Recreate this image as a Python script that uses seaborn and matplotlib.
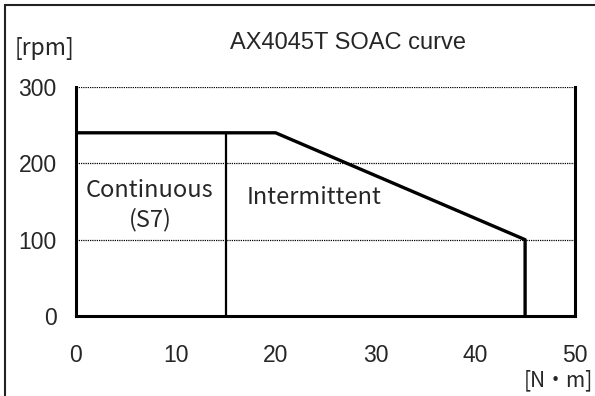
import matplotlib
matplotlib.use("Agg")
import matplotlib.pyplot as plt
import seaborn as sns
from matplotlib.patches import Rectangle

# dados da curva SOAC
torque = [0, 20, 45, 45]
velocidade = [240, 240, 100, 0]
cont_x = [15, 15]
cont_y = [240, 0]
x_ticks = [0, 10, 20, 30, 40, 50]
y_ticks = [0, 100, 200, 300]
titulo = "AX4045T SOAC curve"

sns.set_theme(style="white")
plt.rcParams['font.family'] = ['Liberation Sans', 'DejaVu Sans']
cjk = ['Noto Sans CJK JP', 'DejaVu Sans']

fig = plt.figure(figsize=(5.95, 3.96), dpi=100)
ax = fig.add_axes([76 / 595, 1 - 316 / 396, 499 / 595, 229 / 396])

# linha de limite
sns.lineplot(x=torque, y=velocidade, ax=ax, color='black', linewidth=2.4, sort=False, estimator=None)
sns.lineplot(x=cont_x, y=cont_y, ax=ax, color='black', linewidth=1.6, sort=False, estimator=None)

for v in [100, 200, 300]:
    ax.axhline(v, color='black', linestyle=(0, (1, 0.8)), linewidth=0.9, zorder=1)

ax.set_xlim(0, 50)
ax.set_ylim(0, 300)
ax.set_xticks(x_ticks)
ax.set_yticks(y_ticks)
ax.tick_params(axis='both', direction='in', length=5, width=1.5, labelsize=16.5, color='black')
ax.tick_params(axis='x', pad=20)
ax.tick_params(axis='y', pad=14)

for lado in ['left', 'bottom', 'right']:
    ax.spines[lado].set_color('black')
    ax.spines[lado].set_linewidth(2.2)
ax.spines['top'].set_visible(False)

ax.text(7.4, 165, "Continuous", ha='center', va='center', fontsize=17, family=cjk)
ax.text(7.4, 126, "(S7)", ha='center', va='center', fontsize=17, family=cjk)
ax.text(17.1, 155, "Intermittent", ha='left', va='center', fontsize=17, family=cjk)

fig.text(348 / 595, 1 - 43 / 396, titulo, ha='center', va='center', fontsize=17)
fig.text(15 / 595, 1 - 49 / 396, "[rpm]", ha='left', va='center', fontsize=16.5, family=cjk)
fig.text(593 / 595, 1 - 380 / 396, "[N・m]", ha='right', va='center', fontsize=15, family=cjk)

# moldura externa
fig.patches.append(Rectangle((5 / 595, -0.1), 1.2, 1 - 5 / 396 + 0.1, transform=fig.transFigure,
                             fill=False, edgecolor='#222222', linewidth=1.5))

fig.savefig("out.png", dpi=100)
